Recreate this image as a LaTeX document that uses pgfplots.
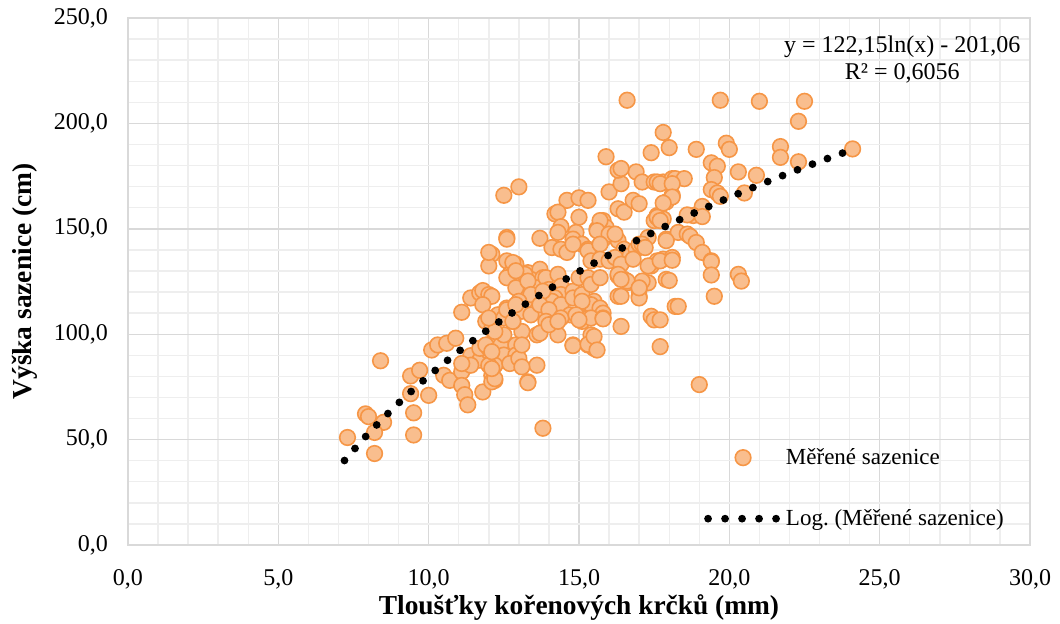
\documentclass[border=0pt]{standalone}
\usepackage{fontspec}
\setmainfont{Liberation Serif}
\usepackage{pgfplots}
\pgfplotsset{compat=1.18}
\definecolor{mkfill}{RGB}{249,190,142}
\definecolor{mkdraw}{RGB}{246,150,70}
\definecolor{gmajor}{RGB}{217,217,217}
\definecolor{gminor}{RGB}{238,238,238}

\pgfplotstableread{
x y
7.3 51.0
7.9 62.2
8.0 60.9
8.5 58.2
8.2 53.4
8.2 43.4
8.4 87.4
9.4 80.2
9.7 82.9
9.4 71.8
10.0 71.0
9.5 62.7
9.5 52.2
11.1 110.4
10.1 92.5
10.3 94.9
10.6 95.7
10.9 98.1
10.5 80.5
10.7 78.1
11.1 82.2
11.1 75.7
11.2 71.3
11.3 66.5
11.8 72.6
11.4 117.2
11.7 119.6
11.8 120.7
12.0 118.8
12.1 118.0
11.8 114.0
11.4 89.8
11.7 87.7
11.4 85.3
11.1 86.1
12.0 91.7
12.2 85.3
12.1 80.5
12.2 78.1
11.7 93.3
12.0 93.3
12.2 99.7
12.1 103.7
12.2 107.7
11.9 106.1
12.4 94.9
12.5 165.9
13.0 169.9
12.6 145.9
13.7 145.5
14.6 163.5
15.0 164.7
15.3 163.5
15.0 155.5
14.2 157.1
14.3 157.9
14.4 151.0
14.3 148.3
14.9 148.3
14.8 145.1
14.1 141.1
14.4 140.3
14.6 138.8
15.1 142.7
15.3 140.3
15.4 137.9
15.8 153.9
15.9 150.7
15.6 149.9
15.8 145.1
16.0 167.5
16.4 171.4
16.3 177.8
16.3 159.5
16.5 157.9
16.8 163.5
17.0 161.9
16.9 177.0
17.1 172.2
17.5 172.2
16.3 144.4
16.5 140.3
16.7 137.2
16.9 140.3
17.3 145.9
17.5 153.9
17.6 155.5
17.4 132.4
17.6 134.8
16.3 127.6
16.5 126.0
16.6 124.4
17.3 124.4
17.0 121.2
16.3 118.0
17.0 118.0
17.4 108.5
12.1 137.9
12.6 134.8
12.9 133.2
12.7 128.4
12.8 126.0
13.1 123.6
13.3 129.2
13.7 130.8
13.4 126.0
13.8 126.8
13.6 122.0
13.9 126.8
14.0 121.2
14.3 128.4
14.4 122.8
14.4 118.8
14.2 117.2
14.1 115.6
14.4 114.0
14.8 120.4
14.8 117.2
15.1 118.8
15.0 126.8
15.3 126.8
15.4 123.6
15.7 126.8
15.5 115.6
15.4 114.0
15.7 112.4
15.8 110.0
14.7 109.2
15.0 108.5
13.8 111.6
13.2 115.6
13.1 118.0
12.6 112.4
12.3 109.2
12.0 132.4
12.6 126.8
12.9 122.0
13.2 128.4
13.3 125.2
13.4 118.8
13.8 120.4
13.0 115.6
13.1 110.9
13.4 109.2
13.7 114.0
14.0 111.6
13.9 106.1
14.1 104.5
14.4 107.7
15.1 115.6
14.9 109.2
15.1 106.1
15.4 107.7
15.8 107.7
15.4 99.7
15.3 94.9
15.5 93.3
14.8 94.9
14.3 99.7
13.6 99.7
13.1 101.3
12.9 94.9
12.5 99.7
12.1 102.9
11.9 94.9
12.5 90.1
13.0 86.9
12.2 85.3
13.6 85.3
13.3 77.4
12.1 77.4
12.0 85.3
12.9 90.1
16.6 211.0
17.8 195.7
18.0 188.5
17.4 186.1
15.9 184.2
16.4 178.6
17.8 172.2
18.1 173.8
17.9 162.7
18.1 165.9
17.6 156.3
17.8 154.7
17.9 145.1
18.3 148.3
17.8 135.6
18.1 136.4
17.9 126.0
17.1 125.2
17.0 117.2
16.4 118.0
17.3 132.4
18.2 113.2
16.4 103.7
14.8 142.7
15.7 153.9
15.6 149.1
16.0 147.5
16.2 147.5
15.3 139.6
15.7 142.7
15.4 134.8
15.7 135.6
16.0 134.8
16.2 136.4
16.4 133.2
16.3 128.4
16.6 125.2
16.4 126.0
16.8 135.6
17.0 142.7
17.1 142.7
17.2 141.1
17.0 122.0
19.7 211.0
21.0 210.5
22.5 210.5
22.3 201.0
18.9 187.7
19.9 190.6
20.0 187.7
21.7 189.0
21.7 183.9
22.3 181.8
19.4 181.3
19.6 179.7
20.3 177.0
20.9 175.4
19.5 174.3
19.4 168.6
19.6 167.0
19.7 165.4
20.5 167.0
19.1 160.6
18.8 156.3
18.6 156.6
19.1 155.8
18.2 173.8
18.5 173.8
17.6 172.2
17.7 171.4
18.1 171.4
18.1 165.1
17.8 162.2
17.6 155.5
17.7 153.9
18.6 147.5
18.7 146.4
18.9 143.5
19.1 138.8
19.4 134.8
17.9 144.4
17.7 134.8
18.1 135.1
19.4 134.4
19.4 128.1
20.3 128.4
20.4 125.2
19.5 118.0
18.0 125.5
18.3 113.2
17.5 106.8
17.7 106.8
17.7 94.1
19.0 76.1
24.1 187.9
13.8 55.4
13.3 77.0
14.8 94.6
15.3 95.2
15.5 98.9
15.6 92.5
15.0 106.8
15.8 107.3
12.2 101.3
12.1 91.7
12.7 86.1
13.0 88.5
13.1 84.5
12.2 78.9
12.1 83.7
13.1 94.9
12.8 106.1
13.7 100.5
14.0 104.5
14.3 106.1
12.0 107.7
12.5 107.7
12.6 111.6
12.8 106.1
12.9 114.0
12.0 138.8
12.6 145.1
12.8 134.0
12.9 130.1
}\sazenice

\begin{document}
\begin{tikzpicture}
  \useasboundingbox (-64pt,-39pt) rectangle (466pt,272.5pt);
  \begin{axis}[
      scale only axis,
      width=451pt, height=263.5pt,
      xmin=0, xmax=30, ymin=0, ymax=250,
      xtick={0,5,...,30}, ytick={0,50,...,250},
      minor x tick num=4, minor y tick num=4,
      grid=both,
      major grid style={draw=gmajor, line width=0.7pt},
      minor grid style={draw=gminor, line width=0.7pt},
      axis line style={draw=gmajor, line width=0.8pt},
      major tick length=0pt, minor tick length=0pt,
      /pgf/number format/.cd, fixed, fixed zerofill, precision=1, use comma, 1000 sep={}, assume math mode=true,
      /pgfplots/.cd,
      tick label style={font=\fontsize{12}{13}\selectfont},
      yticklabel style={xshift=-6.5pt},
      xticklabel style={yshift=-8.5pt},
      xlabel={Tloušťky kořenových krčků (mm)},
      ylabel={Výška sazenice (cm)},
      label style={font=\fontsize{13.7}{15}\selectfont\bfseries},
      x label style={at={(axis description cs:0.5,-0.118)}, anchor=center},
      y label style={at={(axis description cs:-0.114,0.5)}, anchor=center},
      legend style={at={(axis cs:18.95,4)}, anchor=south west, draw=none, fill=none,
        font=\fontsize{11.5}{13}\selectfont, row sep=17pt},
      legend cell align=left,
      clip=false,
      clip marker paths=true,
    ]
    \addplot[only marks, mark=*, mark size=3.9pt,
      mark options={fill=mkfill, draw=mkdraw, line width=0.8pt},
      legend image code/.code={\path[draw=none, fill=none] (0pt,0pt) rectangle (35pt,0.1pt); \draw[mkdraw, fill=mkfill, line width=0.8pt] (17.5pt,0pt) circle[radius=3.9pt];}]
      table[x=x, y=y] {\sazenice};
    \addlegendentry{Měřené sazenice}
    \addplot[black, line width=3.9pt, line cap=round, dash pattern=on 0pt off 8pt, smooth,
      legend image code/.code={\draw[black, line width=3.9pt, line cap=round, dash pattern=on 0pt off 8.5pt] (0pt,0pt) -- (35pt,0pt);}]
      coordinates {
      (7.2,40.08) (8,52.94) (9,67.33) (10,80.20) (11,91.84) (12,102.47) (13,112.25)
      (14,121.31) (15,129.74) (16,137.61) (17,145.02) (18,152.00) (19,158.60)
      (20,164.87) (21,170.83) (22,176.51) (23,181.94) (24,187.14) (24.1,187.65)
    };
    \addlegendentry{Log.\ (Měřené sazenice)}
    \node[align=center, font=\fontsize{12}{13.5}\selectfont] at (axis cs:25.75,230.5)
      {y = 122,15ln(x) - 201,06\\R² = 0,6056};
  \end{axis}
\end{tikzpicture}
\end{document}
